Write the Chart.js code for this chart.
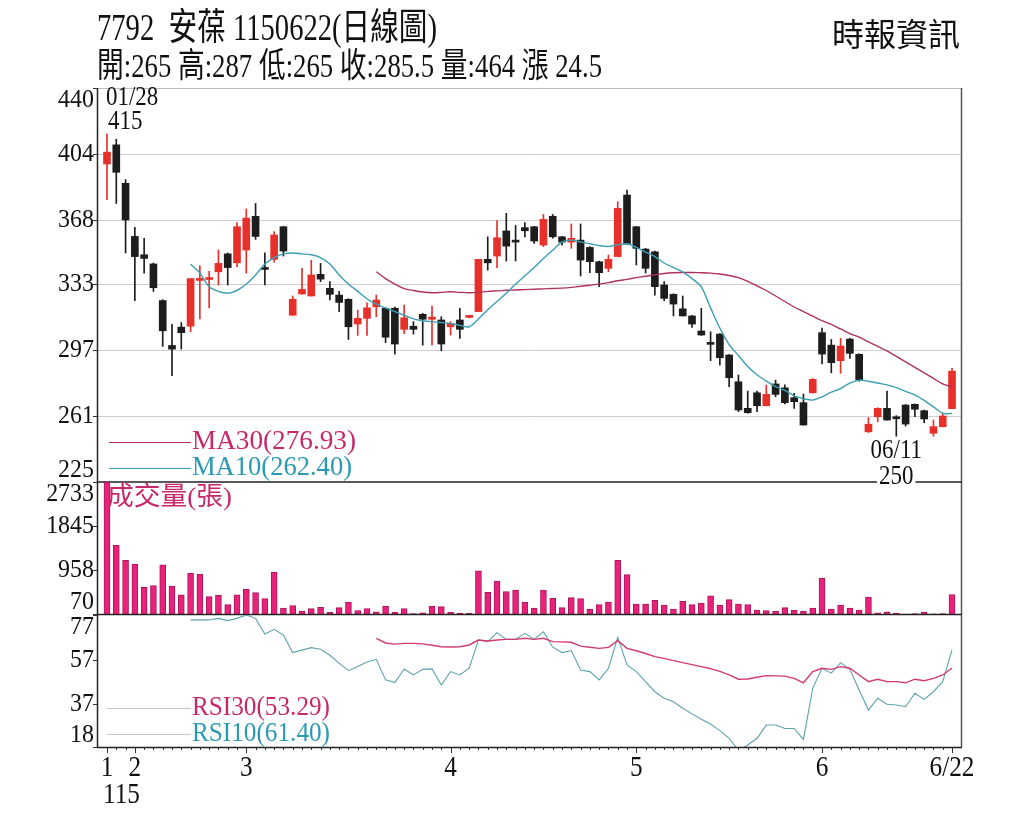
<!DOCTYPE html>
<html>
<head>
<meta charset="utf-8">
<script src="https://cdn.jsdelivr.net/npm/chart.js@4.4.0/dist/chart.umd.min.js"></script>
<style>
  body { margin: 0; background: #fff; }
  #wrap { position: relative; width: 1024px; height: 819px; overflow: hidden; background: #fff; }
  #wrap canvas { position: absolute; left: 0; top: 0; }
</style>
</head>
<body>
<div id="wrap">
  <canvas id="price" width="1024" height="819"></canvas>
  <canvas id="volume" width="1024" height="819"></canvas>
  <canvas id="rsi" width="1024" height="819"></canvas>
</div>
<script>
// trading days 115/01/28 .. 115/06/22
const dates = ('01/28 01/29 01/30 02/02 02/03 02/04 02/05 02/06 02/09 02/10 02/11 02/23 02/24 02/25 02/26 ' +
  '03/02 03/03 03/04 03/05 03/06 03/09 03/10 03/11 03/12 03/13 03/16 03/17 03/18 03/19 03/20 03/23 03/24 03/25 03/26 03/27 03/30 03/31 ' +
  '04/01 04/02 04/07 04/08 04/09 04/10 04/13 04/14 04/15 04/16 04/17 04/20 04/21 04/22 04/23 04/24 04/27 04/28 04/29 04/30 ' +
  '05/04 05/05 05/06 05/07 05/08 05/11 05/12 05/13 05/14 05/15 05/18 05/19 05/20 05/21 05/22 05/25 05/26 05/27 05/28 05/29 ' +
  '06/01 06/02 06/03 06/04 06/05 06/08 06/09 06/10 06/11 06/12 06/15 06/16 06/17 06/18 06/22').split(' ');

const opens = [398.5,409,388,359,349,344,324,299.5,309.5,310, 335,335.5,339.7,349.5,344.6,351.6,370,341.5,346.5,364.3,
  316,327.6,326.5,338.3,330.7,327,324.7,311.2,314.3,320.6, 319.8,319.8,308.3,310,316.5,313.8,313.4,309.7,313.4,314.8,
  318,346.5,348.3,362,356.3,363.8,364.3,354.3,370,358.8, 355.9,357,353,345.2,341.6,348,381.6,364.3,352.1,350.6,
  332.5,327.4,319.5,315.6,307.4,300.5,305.7,294.3,279.7,265.2, 273.7,266.6,278.5,276.4,271,268.3,273.7,306.5,299.7,291.2,
  303,294.7,252.4,260.6,265.2,260,267,267.4,263.9,251.6, 255.2,265];
const highs = [415,412,390,364,358,344.5,324.5,311,312,336, 343,340,351.6,350,366.5,374,377,350,361.6,364.5,
  326.5,341.6,346,344.3,334.3,329,325,318.8,322.8,327, 320,320.5,321.6,312.5,317,321,315.2,312.5,319.8,316,
  346.5,358.8,367.6,371.6,365,366.5,364.5,371,371,359, 365.8,365.8,353.5,345.5,348.8,378,384.3,364.5,352.5,351,
  334.3,327.7,326.5,316,319.8,307,306,294.5,283.4,274.6, 274.6,277.9,280.6,278,273.4,273,281.5,309,302.8,303.4,
  303.4,295,260.1,265.5,274.6,261.2,267.3,267.6,264.2,258.8, 262.5,287];
const lows = [379,377,350,324,339,329,299,283,297.5,307, 314,320,332.5,332.5,342.5,339,357.4,332.5,345,348.3,
  316,327.5,326.5,334.3,324.3,318,302.8,305,305,315.2, 301,294.8,306,305.7,299.7,299.7,296.6,305.2,303.4,314.5,
  318,340.6,342,345.6,345.6,358.8,355.2,353.4,358,354.3, 352.5,337.4,339.2,331.6,339.7,348,354.8,343.4,339,327,
  323.9,315.6,315.6,309.4,305,291.2,288.8,277,263.4,262.5, 263.4,266.6,271.5,267.6,265.2,256,273.5,289.4,284.6,284.3,
  292.5,280,252,257.9,258.8,250,255.5,260.6,257.4,250, 255,265];
const closes = [405,394,368,348,347,331,307.5,297.5,306.5,336, 336,336.5,344.3,342,364.3,369,359,341,359.8,351,
  324.7,330.1,338,335.7,327.4,323,309.7,314.3,320,324.3, 304,300.3,314.6,308.3,313.8,315,300.3,311.6,308.3,315.5,
  346.5,344.6,358.3,353.7,355.9,362.1,356.5,368.3,358.8,355.9, 358,346.1,345.2,339.2,346.5,374.3,354.8,352.5,341.6,331.6,
  325.2,322.1,315.6,311.2,305.2,300.1,292.8,281.9,264.3,262.8, 266.6,272.8,272.8,268.3,268.8,256.1,281,294.8,290.1,299.2,
  295.2,280.6,256.5,265.2,258.8,259.5,256.6,264.7,259.4,255.2, 261,285.5];
const volumes = [2733,1456,1153,1078,608,641,1064,635,459,891, 871,419,447,258,459,568,500,379,911,191,
  238,131,177,205,104,197,306,137,177,116, 231,104,177,78,95,225,218,104,90,84,
  943,508,736,520,554,306,190,554,387,197, 399,379,171,258,312,1153,863,272,272,346,
  252,171,326,258,286,439,252,359,272,258, 151,137,131,197,144,131,191,796,171,252,
  191,151,413,95,116,90,70,80,110,72, 80,464];

// moving averages / RSI (they start later than the candles)
const ma10 = [null,null,null,null,null,null,null,null,null,
  344,339,331.5,329,328,329.5,333,338,344,347.5, 349.5,350,349.5,349,347.5,344,338,333,329,325,
  322,320,318,316,314,313,312.5,312,311.5,310.5, 309.7,314,319,323.5,328,333,337.5,342,347,351.5,
  356,357,356,355,354,353.5,354.5,355,353,350.5, 348,344.5,342,339.7,336,331.5,320,309,300,294,
  288,283.5,280,277,275,272,270.5,269.7,271.5,274, 276,279,280.6,280,279,278,276.5,274.5,272.5,269.5,
  266,262.5,262.40];
const ma30 = [null,null,null,null,null,null,null,null,null,null, null,null,null,null,null,null,null,null,null,null,
  null,null,null,null,null,null,null,null,null,
  339.7,336,333,330.5,329.5,328.7,328.3,328.5,328.8,328.5, 328.3,328.5,329,329.3,329.6,329.8,330,330.2,330.4,330.6,
  330.8,331.2,331.8,332.4,333,333.8,334.8,335.6,336.5,337.3, 338,338.8,339.2,339.3,339.3,339.2,339,338.5,337.7,336.5,
  334.5,332,329.5,326.5,323.5,320.5,318,315.5,313,311, 308.5,306,304,301.5,299,296.5,293.5,290.5,287.5,284.5,
  281.5,278.5,276.93];
const rsi10 = [null,null,null,null,null,null,null,null,null,
  74.8,74.8,74.8,75.5,74.5,75.5,77,75.5,68.5,70.6, 68,60.2,61.3,62.4,61.7,59,55.5,52.1,54,56,
  57.2,48,46.8,52.9,50.2,52.7,52.9,45.7,51.7,50.2, 53.2,65.8,65.1,69.1,66.1,66.1,68.8,66.1,69.5,62.6,
  60.2,61.1,52.4,51.7,48,53.2,67,54.7,51.7,47.2, 42.7,39.8,38.2,35.3,32.8,30.4,28.3,25.3,21.9,16.5,
  18.9,21.9,27.8,27.8,26.3,26.3,21.4,44.2,53.2,51, 55.7,52.7,43.5,34.5,39.8,37.1,36.8,36,42,39.3,
  42.7,47.2,61.40];
const rsi30 = [null,null,null,null,null,null,null,null,null,null, null,null,null,null,null,null,null,null,null,null,
  null,null,null,null,null,null,null,null,null,
  66.6,64.5,64,64.3,64.3,64.1,63.5,62.8,62.7,62.8, 63.6,65.8,65.4,65.8,66.1,66.1,66.6,66.1,66.6,65.1,
  65,64.8,63.1,62.6,62.1,62.5,65.5,62.1,61,59.8, 58.4,57.6,56.6,55.7,54.8,53.9,53,51.8,50.2,48.3,
  48.4,49.2,49.9,49.8,49.7,48.7,46.7,51.7,53.2,52.7, 53.9,53.2,50.2,47.2,48.3,47.2,47.2,46.7,48.3,47.6,
  48.7,50.2,53.29];

const priceTicks = [225, 261, 297, 333, 368, 404, 440];
const volTicks = [70, 958, 1845, 2733];
const rsiTicks = [18, 37, 57, 77];
const xTickIndex = [0, 3, 15, 37, 57, 77, 91];
const xTickLabels = ['1', '2', '3', '4', '5', '6', '6/22'];

const titleText = '7792  安葆 1150622(日線圖)';
const quoteText = '開:265 高:287 低:265 收:285.5 量:464 漲 24.5';
const sourceText = '時報資訊';

// ---- layout ----
const W = 1024, H = 819;
const LEFT = 97, RIGHT = 962;
const STEP = 9.286;               // px per trading day
const FIRST_X = 107;              // centre of first candle
const xMin = -(FIRST_X - LEFT) / STEP;
const xMax = (RIGHT - FIRST_X) / STEP;

const RED = '#e8302a', BLACK = '#1d1d1d';
const MA10C = '#3d9fb3', MA30C = '#b0305f';
const FONT = '"Liberation Serif", "Noto Sans CJK TC", serif';

const idx = closes.map((_, i) => i);
const isUp = i => closes[i] >= opens[i];

function txt(ctx, s, x, y, size, color, align, sx, bg, fitW) {
  ctx.save();
  ctx.font = size + 'px ' + FONT;
  ctx.textBaseline = 'middle';
  const raw = ctx.measureText(s).width;
  if (fitW) sx = fitW / raw;
  sx = sx || 1;
  const w = raw * sx;
  let x0 = align === 'right' ? x - w : align === 'center' ? x - w / 2 : x;
  if (bg) { ctx.fillStyle = bg; ctx.fillRect(x0 - 2, y - size * 0.45, w + 4, size * 0.9); }
  ctx.translate(x0, y);
  ctx.scale(sx, 1);
  ctx.fillStyle = color;
  ctx.fillText(s, 0, 0);
  ctx.restore();
}

function seg(ctx, x1, y1, x2, y2, color, lw) {
  ctx.save();
  ctx.beginPath();
  ctx.moveTo(x1, y1);
  ctx.lineTo(x2, y2);
  ctx.strokeStyle = color;
  ctx.lineWidth = lw || 1;
  ctx.stroke();
  ctx.restore();
}

// y labels: top one pushed down, bottom one pushed up (like the original)
function yLabels(ctx, scale, ticks, area) {
  ticks.forEach(v => {
    const yp = scale.getPixelForValue(v);
    let ly = yp;
    if (v === scale.max) ly += 12;
    if (v === scale.min) ly -= 12;
    txt(ctx, String(v), area.left - 3, ly, 26, '#111', 'right', 0.92);
    seg(ctx, area.left - 4, Math.round(yp) + 0.5, area.left, Math.round(yp) + 0.5, '#333', 1);
  });
}

function baseOptions(top, bottom, yMin, yMax) {
  return {
    responsive: false,
    animation: false,
    events: [],
    layout: { padding: { left: LEFT, right: W - RIGHT, top: top, bottom: H - bottom } },
    scales: {
      x: { type: 'linear', min: xMin, max: xMax, offset: false, display: false },
      y: { min: yMin, max: yMax, display: false }
    },
    plugins: { legend: { display: false }, tooltip: { enabled: false } }
  };
}

// ---------- price panel ----------
const pricePlugin = {
  id: 'priceFrame',
  beforeDatasetsDraw(chart) {
    const { ctx, chartArea: a, scales: { y } } = chart;
    priceTicks.slice(1, -1).forEach(v => {
      const yp = Math.round(y.getPixelForValue(v)) + 0.5;
      seg(ctx, a.left, yp, a.right, yp, '#cfcfcf', 1);
    });
  },
  afterDraw(chart) {
    const { ctx, chartArea: a, scales: { x, y } } = chart;
    // header
    txt(ctx, titleText, LEFT, 30, 37, '#111', 'left', null, null, 340);
    txt(ctx, quoteText, LEFT, 68, 34, '#111', 'left', null, null, 505);
    txt(ctx, sourceText, 960, 38, 32, '#111', 'right');
    // frame
    seg(ctx, a.left, a.top + 0.5, a.right, a.top + 0.5, '#bdbdbd', 1);
    seg(ctx, a.right - 0.5, a.top, a.right - 0.5, 747, '#555', 1.5);
    seg(ctx, a.left + 0.5, a.top, a.left + 0.5, 747, '#222', 1.5);
    seg(ctx, a.left, a.bottom, a.right, a.bottom, '#222', 1.5);
    yLabels(ctx, y, priceTicks, a);
    // highest / lowest marks
    const iHi = highs.indexOf(Math.max(...highs));
    const iLo = lows.indexOf(Math.min(...lows));
    const hx = x.getPixelForValue(iHi), hy = y.getPixelForValue(highs[iHi]);
    txt(ctx, dates[iHi], hx - 1, hy - 36, 27, '#111', 'left', 0.85);
    txt(ctx, String(highs[iHi]), hx + 1, hy - 12, 27, '#111', 'left', 0.85);
    const lx = x.getPixelForValue(iLo), ly = y.getPixelForValue(lows[iLo]);
    txt(ctx, dates[iLo], lx, ly + 15, 27, '#111', 'center', 0.85);
    txt(ctx, String(lows[iLo]), lx, ly + 41, 27, '#111', 'center', 0.85, '#fff');
    // legend
    const l1 = a.bottom - 40, l2 = a.bottom - 14;
    seg(ctx, a.left + 12, l1 + 0.5, a.left + 94, l1 + 0.5, MA30C, 1);
    seg(ctx, a.left + 12, l2 + 0.5, a.left + 94, l2 + 0.5, MA10C, 1);
    txt(ctx, 'MA30(' + ma30[ma30.length - 1].toFixed(2) + ')', a.left + 95, l1, 28, '#c8286a', 'left', null, null, 164);
    txt(ctx, 'MA10(' + ma10[ma10.length - 1].toFixed(2) + ')', a.left + 95, l2, 28, '#2a9ab2', 'left', null, null, 160);
  }
};

new Chart(document.getElementById('price'), {
  type: 'bar',
  data: {
    datasets: [
      {
        label: 'wick',
        data: idx.map(i => ({ x: i, y: [lows[i], highs[i]] })),
        backgroundColor: idx.map(i => isUp(i) ? RED : BLACK),
        barThickness: 1, grouped: false, order: 3
      },
      {
        label: 'body',
        data: idx.map(i => ({ x: i, y: [opens[i], closes[i]] })),
        backgroundColor: idx.map(i => isUp(i) ? RED : BLACK),
        barThickness: 7, minBarLength: 2, grouped: false, order: 2
      },
      {
        type: 'line', label: 'MA30',
        data: idx.map(i => ({ x: i, y: ma30[i] })),
        borderColor: MA30C, borderWidth: 1.4, pointRadius: 0, tension: 0.3, order: 1
      },
      {
        type: 'line', label: 'MA10',
        data: idx.map(i => ({ x: i, y: ma10[i] })),
        borderColor: MA10C, borderWidth: 1.4, pointRadius: 0, tension: 0.3, order: 0
      }
    ]
  },
  options: baseOptions(88, 482, 225, 440),
  plugins: [pricePlugin]
});

// ---------- volume panel ----------
const volPlugin = {
  id: 'volFrame',
  afterDraw(chart) {
    const { ctx, chartArea: a, scales: { y } } = chart;
    yLabels(ctx, y, volTicks, a);
    seg(ctx, a.left, a.bottom + 0.5, a.right, a.bottom + 0.5, '#222', 1.5);
    txt(ctx, '成交量(張)', a.left + 10, a.top + 16, 26, '#c8286a', 'left', null, null, 125);
  }
};

new Chart(document.getElementById('volume'), {
  type: 'bar',
  data: {
    datasets: [{
      label: 'volume',
      data: idx.map(i => ({ x: i, y: volumes[i] })),
      backgroundColor: '#e8217b',
      borderColor: '#a9185a',
      borderWidth: 1,
      barThickness: 6,
      grouped: false
    }]
  },
  options: baseOptions(482, 614, 70, 2733),
  plugins: [volPlugin]
});

// ---------- RSI panel ----------
const rsiPlugin = {
  id: 'rsiFrame',
  afterDraw(chart) {
    const { ctx, chartArea: a, scales: { x, y } } = chart;
    yLabels(ctx, y, rsiTicks, a);
    seg(ctx, a.left, a.bottom + 0.5, a.right, a.bottom + 0.5, '#222', 1.5);
    // x ticks, one per trading day, longer at month starts
    idx.forEach(i => {
      const xp = Math.round(x.getPixelForValue(i)) + 0.5;
      const big = xTickIndex.includes(i);
      seg(ctx, xp, a.bottom, xp, a.bottom + (big ? 6 : 3), '#333', 1);
    });
    xTickIndex.forEach((i, k) => {
      txt(ctx, xTickLabels[k], x.getPixelForValue(i), a.bottom + 21, 29, '#111', 'center', 0.87);
    });
    txt(ctx, '115', x.getPixelForValue(0) - 4, a.bottom + 48, 29, '#111', 'left', 0.87);
    // legend
    const l1 = a.bottom - 39, l2 = a.bottom - 13;
    seg(ctx, a.left + 10, l1 + 0.5, a.left + 94, l1 + 0.5, '#c9c3c6', 1);
    seg(ctx, a.left + 10, l2 + 0.5, a.left + 94, l2 + 0.5, '#c4c9ca', 1);
    txt(ctx, 'RSI30(' + rsi30[rsi30.length - 1].toFixed(2) + ')', a.left + 95, l1, 28, '#c8286a', 'left', null, null, 138);
    txt(ctx, 'RSI10(' + rsi10[rsi10.length - 1].toFixed(2) + ')', a.left + 95, l2, 28, '#2a9ab2', 'left', null, null, 138);
  }
};

new Chart(document.getElementById('rsi'), {
  type: 'line',
  data: {
    datasets: [
      {
        label: 'RSI30',
        data: idx.map(i => ({ x: i, y: rsi30[i] })),
        borderColor: '#d23a72', borderWidth: 1.4, pointRadius: 0
      },
      {
        label: 'RSI10',
        data: idx.map(i => ({ x: i, y: rsi10[i] })),
        borderColor: '#5ea2ad', borderWidth: 1.1, pointRadius: 0
      }
    ]
  },
  options: baseOptions(615, 747, 18, 77),
  plugins: [rsiPlugin]
});
</script>
</body>
</html>
